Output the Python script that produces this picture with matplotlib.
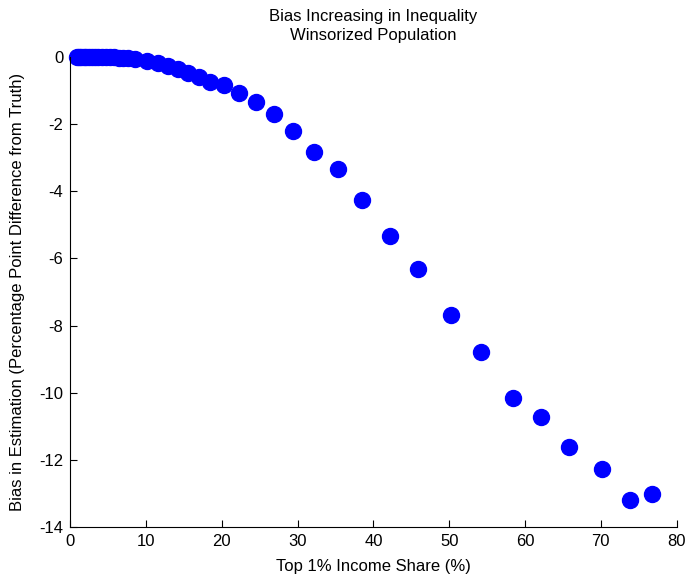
import matplotlib
matplotlib.use("Agg")
import matplotlib.pyplot as plt

plt.rcParams['font.family'] = ['Liberation Sans Narrow', 'Liberation Sans', 'DejaVu Sans']
plt.rcParams['axes.unicode_minus'] = False

# top 1% income share (%) and estimation bias (percentage points)
top_share = [0.9, 1.2, 1.5, 1.8, 2.1, 2.5, 2.9, 3.3, 3.7, 4.2, 4.7, 5.2, 5.8, 6.4, 7.0, 7.7,
             8.6, 10.1, 11.6, 12.9, 14.2, 15.6, 17.0, 18.5, 20.3, 22.3, 24.5, 26.9, 29.4,
             32.2, 35.3, 38.5, 42.2, 45.9, 50.2, 54.2, 58.4, 62.1, 65.8, 70.1, 73.8, 76.7]
bias = [0.0, 0.0, 0.0, 0.0, 0.0, 0.0, 0.0, 0.0, 0.0, 0.0, 0.0, -0.01, -0.01, -0.02, -0.03, -0.04,
        -0.06, -0.12, -0.18, -0.27, -0.36, -0.48, -0.6, -0.74, -0.83, -1.07, -1.34, -1.70, -2.20,
        -2.83, -3.34, -4.26, -5.33, -6.31, -7.69, -8.79, -10.16, -10.72, -11.62, -12.27, -13.2, -13.02]

fig = plt.figure(figsize=(6.87, 5.82), dpi=100)
ax = fig.add_axes([0.102, 0.0945, 0.883, 0.8075])

ax.plot(top_share, bias, 'o', color='#0000ff', markersize=11.5, markeredgecolor='#0000ff', clip_on=False)

ax.set_xlim(0, 80)
ax.set_ylim(-14, 0)
ax.set_xticks(range(0, 81, 10))
ax.set_yticks(range(-14, 1, 2))
ax.spines['top'].set_visible(False)
ax.spines['right'].set_visible(False)
ax.tick_params(direction='in', length=5, labelsize=12, pad=5)

ax.set_xlabel('Top 1% Income Share (%)', fontsize=12, labelpad=7)
ax.set_ylabel('Bias in Estimation (Percentage Point Difference from Truth)', fontsize=12, labelpad=10)
ax.set_title('Bias Increasing in Inequality\nWinsorized Population', fontsize=12, linespacing=1.35, pad=12)

fig.savefig('out.png', dpi=100)
